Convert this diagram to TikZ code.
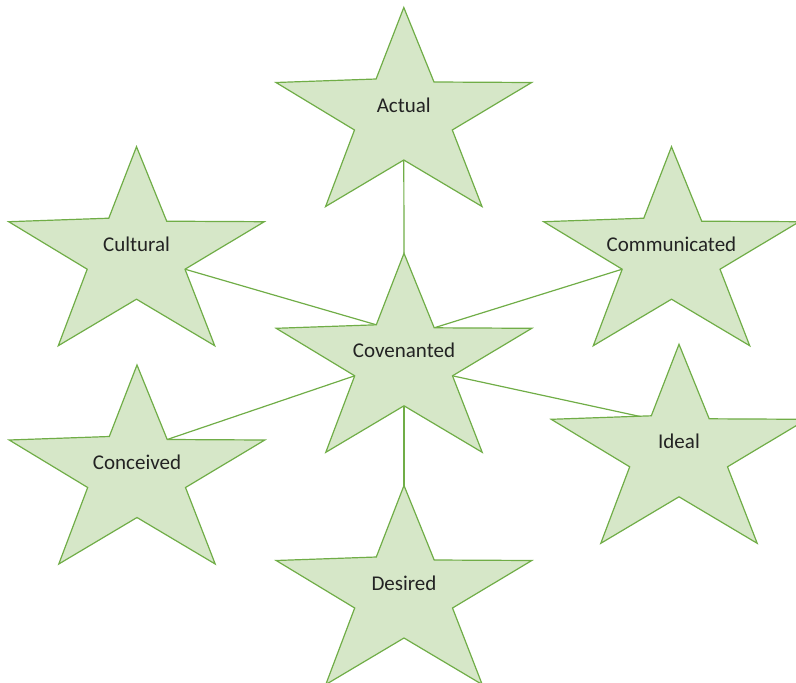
\documentclass[tikz,border=0pt]{standalone}
\usepackage{fontspec}
\setmainfont{Carlito}
\pgfdeclarelayer{bg}
\pgfsetlayers{bg,main}
\definecolor{starfill}{RGB}{214,231,200}
\definecolor{stardraw}{RGB}{112,173,71}
\definecolor{txt}{RGB}{35,35,35}
\tikzset{
  starbox/.style={draw=stardraw, fill=starfill, line width=1.2pt, line join=miter},
  lbl/.style={anchor=base, inner sep=0pt, text=txt, font=\fontsize{21}{24}\selectfont},
  link/.style={draw=stardraw, line width=1.2pt}
}
\newcommand\mystar[4]{%
\begin{scope}[shift={(#2,#3)}]
\draw[starbox] (0,0) coordinate (#1-t) -- (-27.7,71.5) coordinate (#1-ui)
 -- (-127.8,75) coordinate (#1-la) -- (-49.3,122.5) coordinate (#1-li)
 -- (-78.2,199) coordinate (#1-bl) -- (0,152.5) coordinate (#1-bi)
 -- (78.2,199) coordinate (#1-br) -- (48.5,122.5) coordinate (#1-ri)
 -- (127.8,75) coordinate (#1-ra) -- (30.2,74.5) coordinate (#1-ur) -- cycle;
\node[lbl] (#1) at (0,104.5) {#4};
\end{scope}}
\begin{document}
\begin{tikzpicture}[x=1pt,y=-1pt]
\useasboundingbox (0,0) rectangle (796,683);
\clip (0,0) rectangle (796,683);
\mystar{act}{403.8}{7.5}{Actual}
\mystar{cul}{136.5}{146.7}{Cultural}
\mystar{com}{671.5}{146.7}{Communicated}
\mystar{cov}{404}{253.3}{Covenanted}
\mystar{con}{137}{365}{Conceived}
\mystar{ide}{679}{344.3}{Ideal}
\mystar{des}{404}{485.5}{Desired}
\coordinate (ideend) at (690,427.3);
\begin{pgfonlayer}{bg}
\draw[link] (act-bi) -- (cov-t);
\draw[link] (cov-bi) -- (des-t);
\draw[link] (cul-ri) -- (cov-ui);
\draw[link] (cov-ur) -- (com-li);
\draw[link] (con-ur) -- (cov-li);
\draw[link] (cov-ri) -- (ideend);
\end{pgfonlayer}
\end{tikzpicture}
\end{document}
